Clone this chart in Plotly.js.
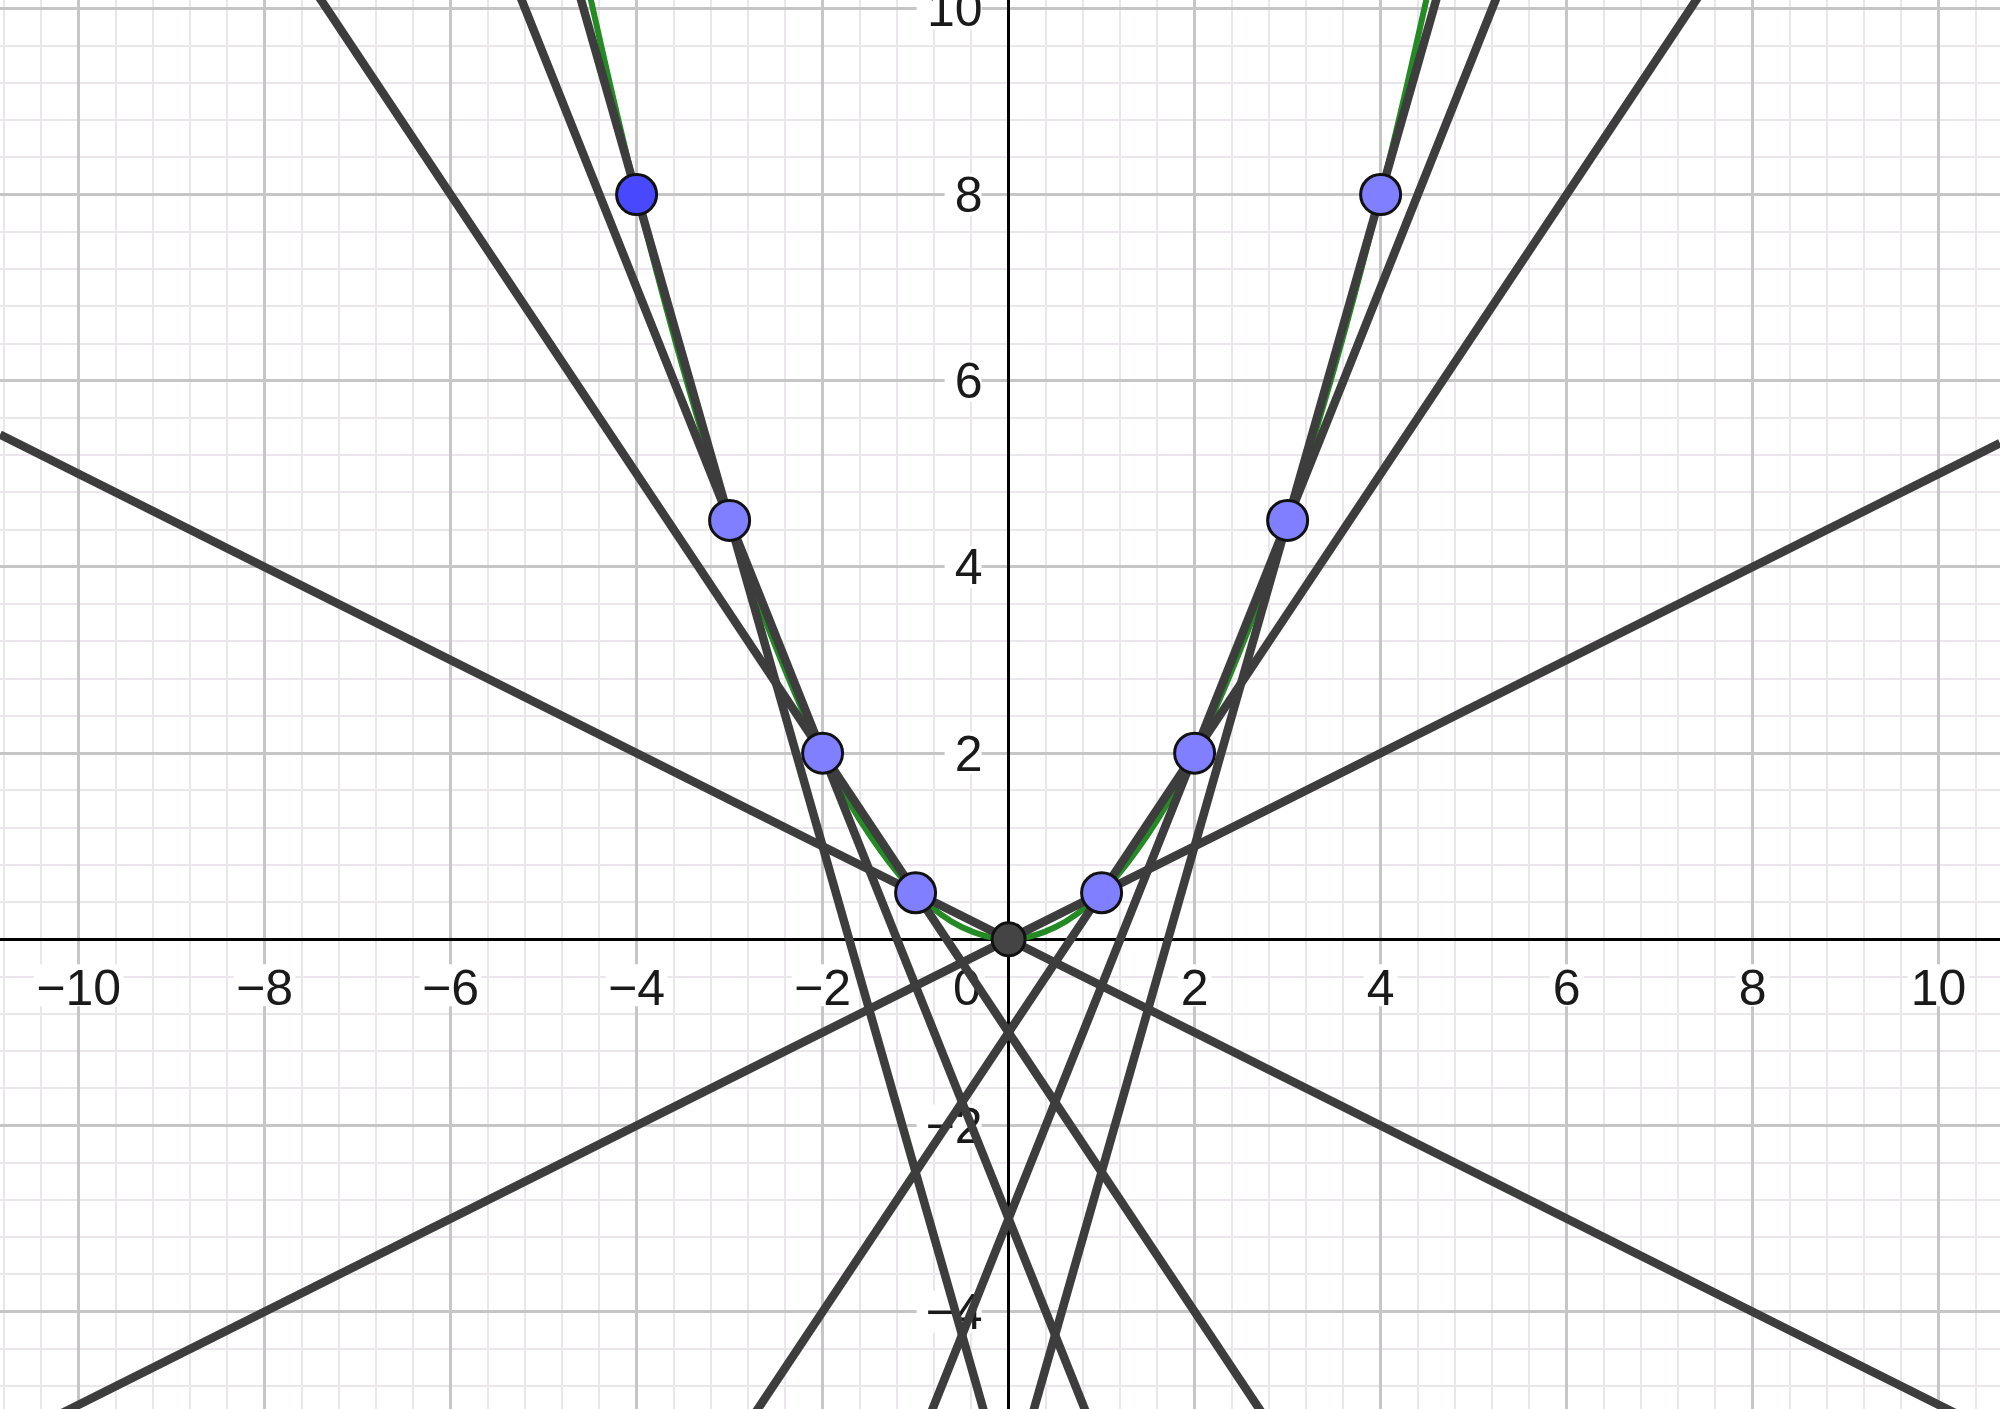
<!DOCTYPE html>
<html>
<head>
<meta charset="utf-8">
<script src="https://cdn.plot.ly/plotly-3.0.1.min.js"></script>
<style>html,body{margin:0;padding:0;background:#fff;}#chart{width:2000px;height:1409px;}</style>
</head>
<body>
<div id="chart"></div>
<script>
// ---- data ----
const pointX = [-4, -3, -2, -1, 0, 1, 2, 3, 4];
const pointY = [8, 4.5, 2, 0.5, 0, 0.5, 2, 4.5, 8];

const curveX = [-4.5, -4.25, -4, -3.5, -3, -2.5, -2, -1.5, -1, -0.5, 0, 0.5, 1, 1.5, 2, 2.5, 3, 3.5, 4, 4.25, 4.5];
const curveY = [10.13, 9.03, 8, 6.13, 4.5, 3.13, 2, 1.13, 0.5, 0.13, 0, 0.13, 0.5, 1.13, 2, 3.13, 4.5, 6.13, 8, 9.03, 10.13];

const xTickVals = [-10, -8, -6, -4, -2, 0, 2, 4, 6, 8, 10];
const xTickText = ['\u221210', '\u22128', '\u22126', '\u22124', '\u22122', '0\u00a0\u00a0\u00a0\u00a0\u00a0\u00a0', '2', '4', '6', '8', '10'];
const yTickVals = [-4, -2, 2, 4, 6, 8, 10];
const yTickText = ['\u22124', '\u22122', '2', '4', '6', '8', '10'];

// ---- view ----
const xRange = [-10.845, 10.66];
const yRange = [-5.045, 10.09];

// ---- styles ----
const lineColor = '#3d3d3d';
const curveColor = '#248a24';
const pointFill = '#7f7fff';
const pointFillDark = '#4848ff';
const originFill = '#444444';
const fontFamily = '"Liberation Sans", Arial, sans-serif';

const traces = [];

// parabola
traces.push({
  x: curveX, y: curveY, type: 'scatter', mode: 'lines',
  line: {color: curveColor, width: 6, shape: 'spline', smoothing: 1},
  hoverinfo: 'skip', showlegend: false
});

// secant lines through consecutive points, extended across the view
for (let i = 0; i < pointX.length - 1; i++) {
  const x1 = pointX[i], y1 = pointY[i], x2 = pointX[i + 1], y2 = pointY[i + 1];
  const m = (y2 - y1) / (x2 - x1);
  const xs = [xRange[0], xRange[1]];
  const ys = xs.map(x => y1 + m * (x - x1));
  traces.push({
    x: xs, y: ys, type: 'scatter', mode: 'lines',
    line: {color: lineColor, width: 8.5},
    hoverinfo: 'skip', showlegend: false
  });
}

// points
const fills = pointX.map((x, i) => x === 0 ? originFill : (i === 0 ? pointFillDark : pointFill));
const sizes = pointX.map(x => x === 0 ? 33 : 40);
traces.push({
  x: pointX, y: pointY, type: 'scatter', mode: 'markers',
  marker: {color: fills, size: sizes, opacity: 1, line: {color: '#111', width: 3}},
  cliponaxis: false, hoverinfo: 'skip', showlegend: false
});

// white backgrounds behind tick labels (under the traces)
const shapes = [];
xTickVals.forEach((v, i) => {
  const n = v === 0 ? 1 : xTickText[i].length;
  const w = 28 * n + 6;
  const cx = v === 0 ? -41 : 0;
  shapes.push({
    type: 'rect', layer: 'between', xref: 'x', yref: 'y',
    xsizemode: 'pixel', ysizemode: 'pixel', xanchor: v, yanchor: 0,
    x0: cx - w / 2, x1: cx + w / 2, y0: -25, y1: -67,
    fillcolor: '#ffffff', line: {width: 0}
  });
});
yTickVals.forEach((v, i) => {
  const n = yTickText[i].length;
  const w = 28 * n + 6;
  shapes.push({
    type: 'rect', layer: 'between', xref: 'x', yref: 'y',
    xsizemode: 'pixel', ysizemode: 'pixel', xanchor: 0, yanchor: v,
    x0: -30 - w, x1: -27, y0: -21, y1: 21,
    fillcolor: '#ffffff', line: {width: 0}
  });
});

const xPos = (0 - yRange[0]) / (yRange[1] - yRange[0]);
const yPos = (0 - xRange[0]) / (xRange[1] - xRange[0]);

const layout = {
  width: 2000, height: 1409,
  margin: {l: 0, r: 0, t: 0, b: 0, pad: 0},
  paper_bgcolor: '#ffffff', plot_bgcolor: '#ffffff',
  showlegend: false,
  font: {family: fontFamily, size: 50, color: '#1a1a1a'},
  shapes: shapes,
  xaxis: {
    range: xRange, anchor: 'free', position: xPos,
    tickmode: 'array', tickvals: xTickVals, ticktext: xTickText,
    ticks: '', showline: false, tickangle: 0,
    ticklabelstandoff: 15, ticklabeloverflow: 'allow',
    tickfont: {family: fontFamily, size: 50, color: '#1a1a1a'},
    showgrid: true, gridcolor: '#c6c6c6', gridwidth: 3,
    zeroline: true, zerolinecolor: '#000000', zerolinewidth: 3,
    minor: {tickmode: 'linear', tick0: 0, dtick: 0.4, showgrid: true, gridcolor: '#ebe6eb', gridwidth: 2, ticks: ''},
    layer: 'below traces', fixedrange: true
  },
  yaxis: {
    range: yRange, anchor: 'free', position: yPos, side: 'left',
    tickmode: 'array', tickvals: yTickVals, ticktext: yTickText,
    ticks: '', showline: false,
    ticklabelstandoff: 26, ticklabeloverflow: 'allow',
    tickfont: {family: fontFamily, size: 50, color: '#1a1a1a'},
    showgrid: true, gridcolor: '#c6c6c6', gridwidth: 3,
    zeroline: true, zerolinecolor: '#000000', zerolinewidth: 3,
    minor: {tickmode: 'linear', tick0: 0, dtick: 0.4, showgrid: true, gridcolor: '#ebe6eb', gridwidth: 2, ticks: ''},
    layer: 'below traces', fixedrange: true
  }
};

Plotly.newPlot('chart', traces, layout, {staticPlot: true, displayModeBar: false});
</script>
</body>
</html>
